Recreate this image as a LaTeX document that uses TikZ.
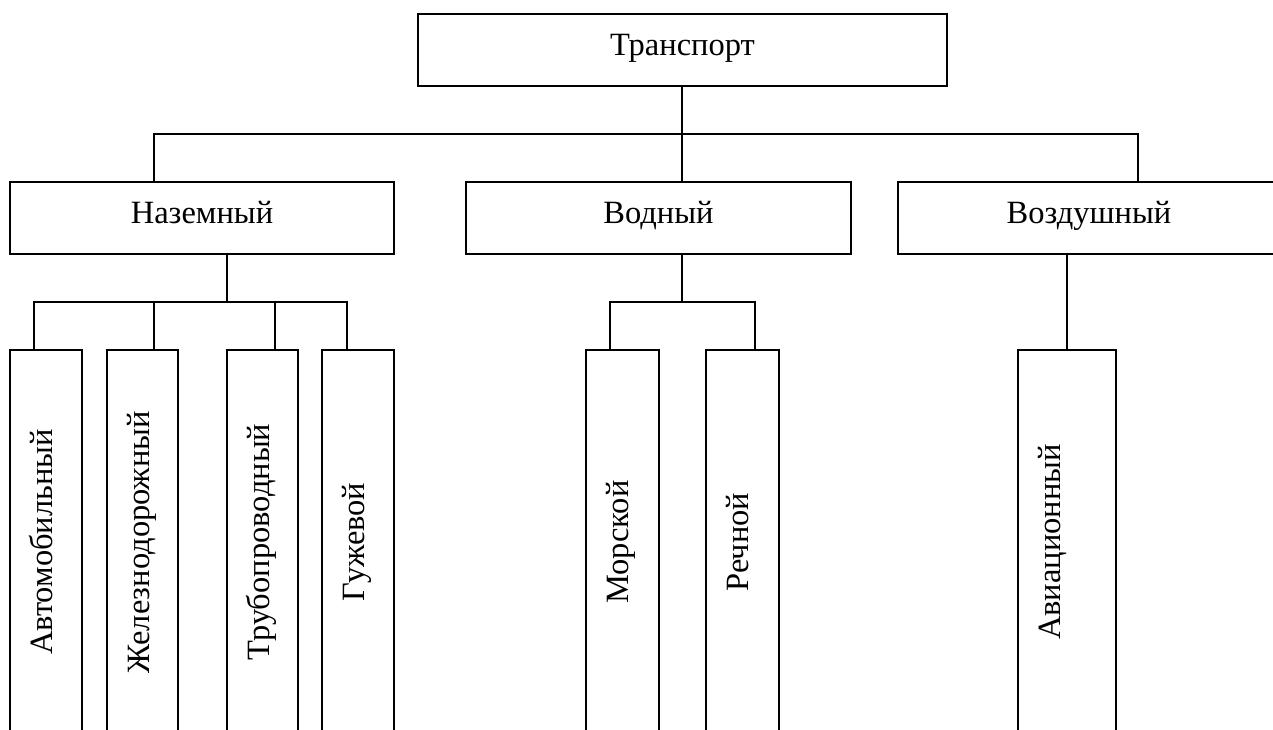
\documentclass[tikz,border=0pt]{standalone}
\usepackage{fontspec}
\setmainfont{Liberation Serif}
\begin{document}
\begin{tikzpicture}[x=1pt,y=-1pt,
  box/.style={draw,line width=1.6pt,inner sep=0pt,minimum height=72pt},
  vbox/.style={draw,line width=1.6pt,inner sep=0pt,minimum height=450pt},
  lbl/.style={inner sep=0pt,anchor=base,font=\fontsize{32.5}{36}\selectfont},
  vlbl/.style={inner sep=0pt,anchor=base,rotate=90,font=\fontsize{32.5}{36}\selectfont},
  conn/.style={line width=1.6pt}]
\useasboundingbox (0,0) rectangle (1273,729);
\clip (0,0) rectangle (1273,729);
% top level
\node[box,minimum width=529pt] (tr) at (682.5,50) {};
\node[lbl] (trt) at (682.5,55) {Транспорт};
% second level
\node[box,minimum width=384pt] (naz) at (202,218) {};
\node[lbl] (nazt) at (202,223) {Наземный};
\node[box,minimum width=385pt] (vod) at (658.5,218) {};
\node[lbl] (vodt) at (658.5,223) {Водный};
\node[box,minimum width=480pt] (voz) at (1138,218) {};
\node[lbl] (vozt) at (1089,223) {Воздушный};
% third level
\node[vbox,minimum width=72pt] (avt) at (46,575) {};
\node[vlbl] (avtt) at (52,542) {Автомобильный};
\node[vbox,minimum width=71pt] (zhel) at (142.5,575) {};
\node[vlbl] (zhelt) at (149,542) {Железнодорожный};
\node[vbox,minimum width=71pt] (trub) at (262.5,575) {};
\node[vlbl] (trubt) at (269,542) {Трубопроводный};
\node[vbox,minimum width=72pt] (guzh) at (358,575) {};
\node[vlbl] (guzht) at (364,542) {Гужевой};
\node[vbox,minimum width=73pt] (mor) at (622.5,575) {};
\node[vlbl] (mort) at (628,542) {Морской};
\node[vbox,minimum width=73pt] (rech) at (742.5,575) {};
\node[vlbl] (recht) at (748,542) {Речной};
\node[vbox,minimum width=98pt] (avia) at (1067,575) {};
\node[vlbl] (aviat) at (1060,542) {Авиационный};
% junctions
\coordinate (j1) at (682,134);
\coordinate (j2) at (227,302);
\coordinate (j3) at (682,302);
% connectors
\draw[conn] (j1 |- tr.south) -- (j1);
\draw[conn] (j1) -| ([xshift=-48pt]naz.north);
\draw[conn] (j1) -- (j1 |- vod.north);
\draw[conn] (j1) -| (voz.north);
\draw[conn] (j2 |- naz.south) -- (j2);
\draw[conn] (j2) -| ([xshift=-12pt]avt.north);
\draw[conn] (j2) -| ([xshift=11.5pt]zhel.north);
\draw[conn] (j2) -| ([xshift=12.5pt]trub.north);
\draw[conn] (j2) -| ([xshift=-11pt]guzh.north);
\draw[conn] (j3 |- vod.south) -- (j3);
\draw[conn] (j3) -| ([xshift=-12.5pt]mor.north);
\draw[conn] (j3) -| ([xshift=12.5pt]rech.north);
\draw[conn] (avia.north |- voz.south) -- (avia.north);
\end{tikzpicture}
\end{document}
